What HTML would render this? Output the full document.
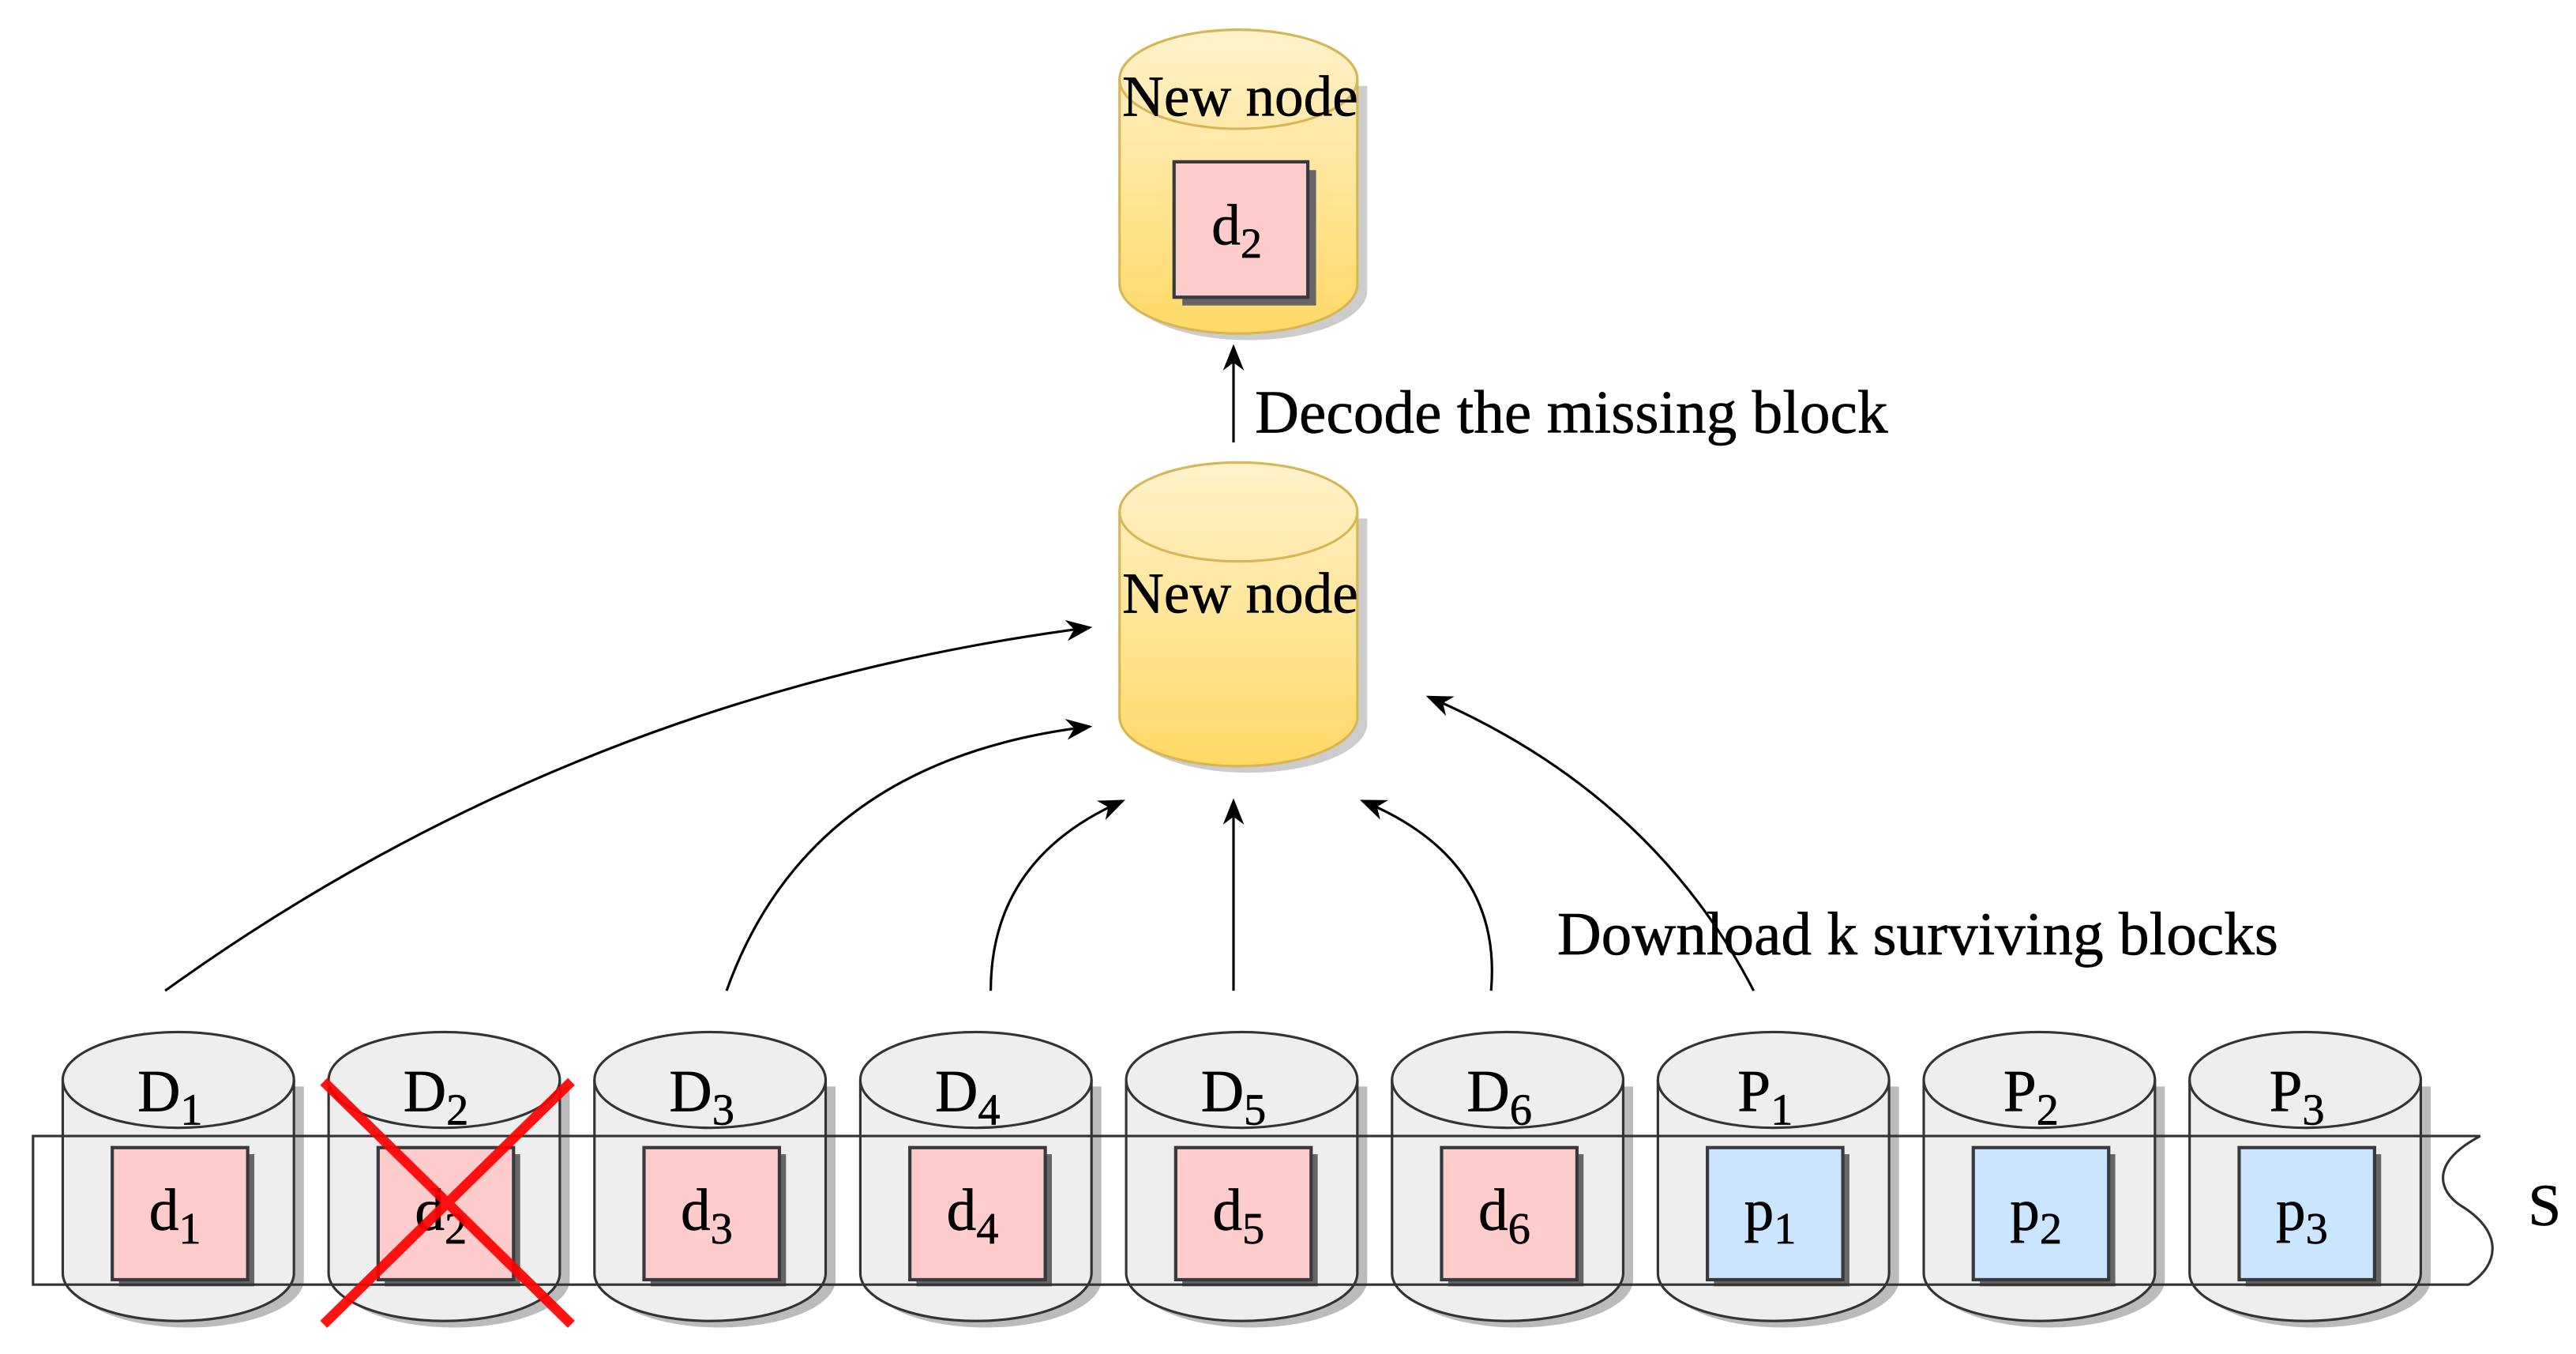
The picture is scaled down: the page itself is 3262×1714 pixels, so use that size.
<!DOCTYPE html>
<html><head><meta charset="utf-8"><style>
html,body{margin:0;padding:0;background:#fff;}
svg{display:block;}
text{font-family:"Liberation Serif",serif;fill:#000;stroke:#000;stroke-width:0.3;}
</style></head><body>
<svg width="3262" height="1714" viewBox="0 0 1560 820" preserveAspectRatio="none" xmlns="http://www.w3.org/2000/svg">
<defs>
<linearGradient id="yg" x1="0" y1="0" x2="0" y2="1"><stop offset="0" stop-color="#fff2cc"/><stop offset="1" stop-color="#ffd966"/></linearGradient>
<marker id="ah2" viewBox="0 0 10 10" refX="9" refY="5" markerWidth="16" markerHeight="16" orient="auto" markerUnits="userSpaceOnUse"><path d="M0,1 L10,5 L0,9 L3,5 Z" fill="#000"/></marker>
</defs>

<g stroke="#d6b656" stroke-width="1.5">
<path d="M681,48 v124 a72,30 0 0 0 144,0 v-124" fill="#ccc" stroke="none" transform="translate(3,4)"/>
<path d="M678,48 v124 a72,30 0 0 0 144,0 v-124 a72,30 0 0 0 -144,0 z" fill="url(#yg)"/>
<path d="M678,48 a72,30 0 0 0 144,0" fill="none"/>
<path d="M681,310 v124 a72,30 0 0 0 144,0 v-124" fill="#ccc" stroke="none" transform="translate(3,4)"/>
<path d="M678,310 v124 a72,30 0 0 0 144,0 v-124 a72,30 0 0 0 -144,0 z" fill="url(#yg)"/>
<path d="M678,310 a72,30 0 0 0 144,0" fill="none"/>
</g>
<text x="751" y="70" font-size="35" text-anchor="middle">New node</text>
<rect x="716" y="103" width="81" height="82" fill="#666"/>
<rect x="711" y="98" width="81" height="82" fill="#ffcccc" stroke="#36393d" stroke-width="2"/>
<text x="749" y="148" font-size="35" text-anchor="middle">d<tspan font-size="26" dy="8">2</tspan></text>
<text x="751" y="371" font-size="35" text-anchor="middle">New node</text>

<line x1="747" y1="268" x2="747" y2="210" stroke="#000" stroke-width="1.5" marker-end="url(#ah2)"/>
<text x="760" y="262" font-size="37">Decode the missing block</text>

<g stroke="#333" stroke-width="1.5">
<g><path d="M42,654 v117 a70,29 0 0 0 140,0 v-117" fill="#bbb" stroke="none" transform="translate(2,4)"/><path d="M38,654 v117 a70,29 0 0 0 140,0 v-117 a70,29 0 0 0 -140,0z" fill="#eee"/><path d="M38,654 a70,29 0 0 0 140,0" fill="none"/></g>
<g transform="translate(161,0)"><path d="M42,654 v117 a70,29 0 0 0 140,0 v-117" fill="#bbb" stroke="none" transform="translate(2,4)"/><path d="M38,654 v117 a70,29 0 0 0 140,0 v-117 a70,29 0 0 0 -140,0z" fill="#eee"/><path d="M38,654 a70,29 0 0 0 140,0" fill="none"/></g>
<g transform="translate(322,0)"><path d="M42,654 v117 a70,29 0 0 0 140,0 v-117" fill="#bbb" stroke="none" transform="translate(2,4)"/><path d="M38,654 v117 a70,29 0 0 0 140,0 v-117 a70,29 0 0 0 -140,0z" fill="#eee"/><path d="M38,654 a70,29 0 0 0 140,0" fill="none"/></g>
<g transform="translate(483,0)"><path d="M42,654 v117 a70,29 0 0 0 140,0 v-117" fill="#bbb" stroke="none" transform="translate(2,4)"/><path d="M38,654 v117 a70,29 0 0 0 140,0 v-117 a70,29 0 0 0 -140,0z" fill="#eee"/><path d="M38,654 a70,29 0 0 0 140,0" fill="none"/></g>
<g transform="translate(644,0)"><path d="M42,654 v117 a70,29 0 0 0 140,0 v-117" fill="#bbb" stroke="none" transform="translate(2,4)"/><path d="M38,654 v117 a70,29 0 0 0 140,0 v-117 a70,29 0 0 0 -140,0z" fill="#eee"/><path d="M38,654 a70,29 0 0 0 140,0" fill="none"/></g>
<g transform="translate(805,0)"><path d="M42,654 v117 a70,29 0 0 0 140,0 v-117" fill="#bbb" stroke="none" transform="translate(2,4)"/><path d="M38,654 v117 a70,29 0 0 0 140,0 v-117 a70,29 0 0 0 -140,0z" fill="#eee"/><path d="M38,654 a70,29 0 0 0 140,0" fill="none"/></g>
<g transform="translate(966,0)"><path d="M42,654 v117 a70,29 0 0 0 140,0 v-117" fill="#bbb" stroke="none" transform="translate(2,4)"/><path d="M38,654 v117 a70,29 0 0 0 140,0 v-117 a70,29 0 0 0 -140,0z" fill="#eee"/><path d="M38,654 a70,29 0 0 0 140,0" fill="none"/></g>
<g transform="translate(1127,0)"><path d="M42,654 v117 a70,29 0 0 0 140,0 v-117" fill="#bbb" stroke="none" transform="translate(2,4)"/><path d="M38,654 v117 a70,29 0 0 0 140,0 v-117 a70,29 0 0 0 -140,0z" fill="#eee"/><path d="M38,654 a70,29 0 0 0 140,0" fill="none"/></g>
<g transform="translate(1288,0)"><path d="M42,654 v117 a70,29 0 0 0 140,0 v-117" fill="#bbb" stroke="none" transform="translate(2,4)"/><path d="M38,654 v117 a70,29 0 0 0 140,0 v-117 a70,29 0 0 0 -140,0z" fill="#eee"/><path d="M38,654 a70,29 0 0 0 140,0" fill="none"/></g>
</g>

<g stroke="#36393d" stroke-width="2">
<g fill="#666" stroke="none">
<rect x="72" y="699" width="82" height="80"/><rect x="233" y="699" width="82" height="80"/><rect x="394" y="699" width="82" height="80"/><rect x="555" y="699" width="82" height="80"/><rect x="716" y="699" width="82" height="80"/><rect x="877" y="699" width="82" height="80"/><rect x="1038" y="699" width="82" height="80"/><rect x="1199" y="699" width="82" height="80"/><rect x="1360" y="699" width="82" height="80"/>
</g>
<g fill="#ffcccc">
<rect x="68" y="695" width="82" height="80"/><rect x="229" y="695" width="82" height="80"/><rect x="390" y="695" width="82" height="80"/><rect x="551" y="695" width="82" height="80"/><rect x="712" y="695" width="82" height="80"/><rect x="873" y="695" width="82" height="80"/>
</g>
<g fill="#cce5ff">
<rect x="1034" y="695" width="82" height="80"/><rect x="1195" y="695" width="82" height="80"/><rect x="1356" y="695" width="82" height="80"/>
</g>
</g>

<path d="M20,688 H1502 C1470,705 1478,722 1490,730 C1515,745 1515,765 1495,778 H20 Z" fill="none" stroke="#333" stroke-width="1.5"/>
<text x="1541" y="742" font-size="36" text-anchor="middle">S</text>

<g font-size="36" text-anchor="middle">
<text x="103" y="673">D<tspan font-size="27" dy="8">1</tspan></text>
<text x="264" y="673">D<tspan font-size="27" dy="8">2</tspan></text>
<text x="425" y="673">D<tspan font-size="27" dy="8">3</tspan></text>
<text x="586" y="673">D<tspan font-size="27" dy="8">4</tspan></text>
<text x="747" y="673">D<tspan font-size="27" dy="8">5</tspan></text>
<text x="908" y="673">D<tspan font-size="27" dy="8">6</tspan></text>
<text x="1069" y="673">P<tspan font-size="27" dy="8">1</tspan></text>
<text x="1230" y="673">P<tspan font-size="27" dy="8">2</tspan></text>
<text x="1391" y="673">P<tspan font-size="27" dy="8">3</tspan></text>
<text x="106" y="745">d<tspan font-size="27" dy="8">1</tspan></text>
<text x="267" y="745">d<tspan font-size="27" dy="8">2</tspan></text>
<text x="428" y="745">d<tspan font-size="27" dy="8">3</tspan></text>
<text x="589" y="745">d<tspan font-size="27" dy="8">4</tspan></text>
<text x="750" y="745">d<tspan font-size="27" dy="8">5</tspan></text>
<text x="911" y="745">d<tspan font-size="27" dy="8">6</tspan></text>
<text x="1072" y="745">p<tspan font-size="27" dy="8">1</tspan></text>
<text x="1233" y="745">p<tspan font-size="27" dy="8">2</tspan></text>
<text x="1394" y="745">p<tspan font-size="27" dy="8">3</tspan></text>
</g>

<g stroke="#ff0000" stroke-width="6" opacity="0.92">
<line x1="196" y1="655" x2="346" y2="802"/>
<line x1="346" y1="655" x2="196" y2="802"/>
</g>

<g fill="none" stroke="#000" stroke-width="1.5" marker-end="url(#ah2)">
<path d="M100,600 Q350,420 660,380"/>
<path d="M440,600 Q490,460 660,440"/>
<path d="M600,600 Q600,520 680,485"/>
<path d="M747,600 L747,485"/>
<path d="M903,600 Q910,520 825,485"/>
<path d="M1062,600 Q1000,480 865,422"/>
</g>
<text x="943" y="578" font-size="37">Download k surviving blocks</text>
</svg>
</body></html>
